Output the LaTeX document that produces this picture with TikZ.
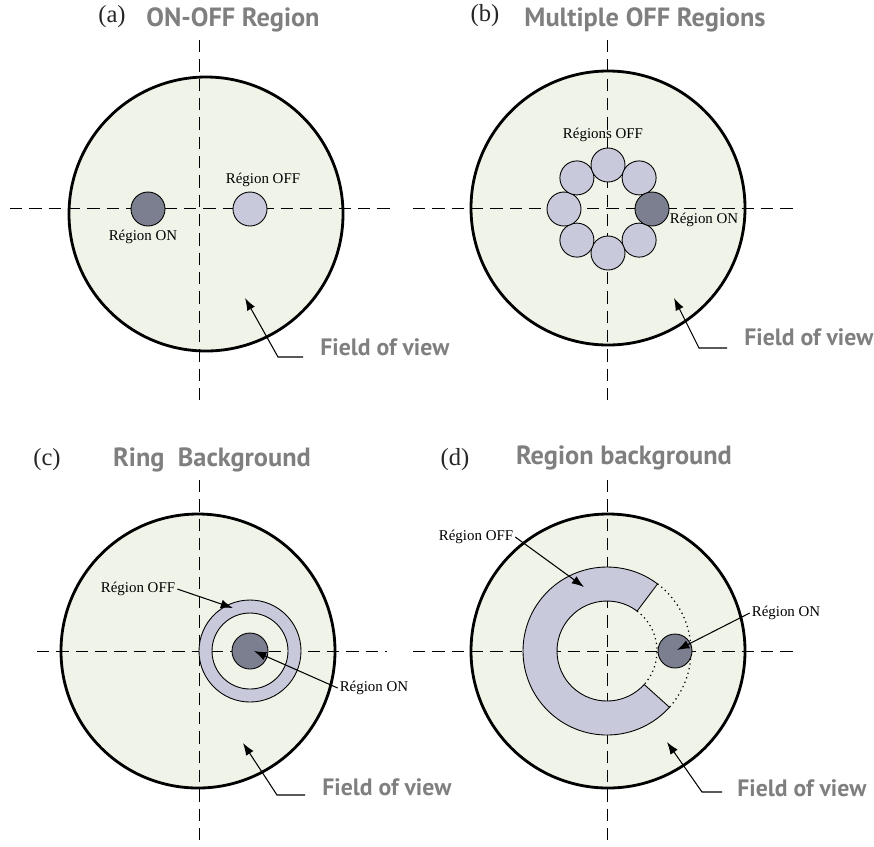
\documentclass[tikz,border=0pt]{standalone}
\usepackage{fontspec}
\setmainfont{Liberation Serif}
\newfontfamily\headfont{PT Sans}
\usetikzlibrary{arrows.meta}

\definecolor{fovfill}{HTML}{F0F4E8}
\definecolor{offfill}{HTML}{C8CADC}
\definecolor{onfill}{HTML}{7C7F8F}
\definecolor{headgray}{HTML}{7F7F7F}

\tikzset{
  fov/.style={draw, line width=1.6pt, fill=fovfill},
  axis/.style={line width=0.5pt, dash pattern=on 7pt off 4pt},
  offreg/.style={draw, line width=0.5pt, fill=offfill},
  onreg/.style={draw, line width=0.5pt, fill=onfill},
  lbl/.style={font=\fontsize{8.5}{9}\selectfont, inner sep=1pt},
  tag/.style={font=\fontsize{14}{15}\selectfont, text=black!85},
  head/.style={font=\headfont\bfseries\fontsize{15}{17}\selectfont, text=headgray},
  fovlbl/.style={font=\headfont\bfseries\fontsize{13.5}{15}\selectfont, text=headgray, anchor=west, inner sep=0pt},
  pointer/.style={-{Latex[length=7pt,width=5pt]}, line width=0.6pt},
}

\begin{document}
\begin{tikzpicture}[x=0.02cm, y=-0.02cm]
\useasboundingbox (0,0) rectangle (874,846);

% (a) ON-OFF region
\draw[fov] (206,214) circle (137);
\draw[axis] (10,208) -- (393,208);
\draw[axis] (199,40) -- (199,400);
\draw[onreg] (148,209) circle (17);
\draw[offreg] (250,209) circle (17);
\node[tag] (taga) at (112,17) {(a)};
\node[head] (heada) at (233,20) {ON-OFF Region};
\node[lbl] (offlbla) at (263,180) {Région OFF};
\node[lbl] (onlbla) at (143,237) {Région ON};
\node[fovlbl] (fova) at (320,347) {Field of view};
\coordinate (fovtipa) at (245,298);
\draw[pointer] ([shift={(-17,10)}]fova.west) -- ++(-25,0) -- (fovtipa);

% (b) multiple OFF regions
\draw[fov] (608,208) circle (137);
\draw[axis] (413,208) -- (795,208);
\draw[axis] (607,40) -- (607,400);
\foreach \a in {45,90,...,315}
  \draw[offreg] (608,209) ++(\a:44) circle (17);
\draw[onreg] (608,209) ++(0:44) circle (17);
\node[tag] (tagb) at (485,16) {(b)};
\node[head] (headb) at (645,20) {Multiple OFF Regions};
\node[lbl] (offlblb) at (603,135) {Régions OFF};
\node[lbl] (onlblb) at (704,220) {Région ON};
\node[fovlbl] (fovb) at (744,337) {Field of view};
\coordinate (fovtipb) at (674,298);
\draw[pointer] ([shift={(-17,11)}]fovb.west) -- ++(-28,0) -- (fovtipb);

% (c) ring background
\draw[fov] (198,651) circle (137);
\draw[axis] (37,651) -- (387,651);
\draw[axis] (199,480) -- (199,840);
\draw[offreg, even odd rule] (250,651) circle (51) circle (38);
\draw[onreg] (250,651) circle (18);
\coordinate (ontipc) at (254,651);
\coordinate (offtipc) at (233,608);
\node[tag] (tagc) at (47,460) {(c)};
\node[head] (headc) at (212,460) {Ring\ \ Background};
\node[lbl] (offlblc) at (138,589) {Région OFF};
\node[lbl] (onlblc) at (374,688) {Région ON};
\draw[pointer] (offlblc.east) -- (offtipc);
\draw[pointer] (onlblc.west) -- (ontipc);
\node[fovlbl] (fovc) at (322,787) {Field of view};
\coordinate (fovtipc) at (243,743);
\draw[pointer] ([shift={(-17,8)}]fovc.west) -- ++(-28,0) -- (fovtipc);

% (d) region background
\draw[fov] (608,651) circle (137);
\draw[axis] (413,651) -- (797,651);
\draw[axis] (607,480) -- (607,840);
\draw[offreg, shift={(607,651)}] (42:84) arc[start angle=42, end angle=307, radius=84]
  -- (307:50) arc[start angle=307, end angle=42, radius=50] -- cycle;
\draw[dotted, line width=0.7pt, shift={(607,651)}] (-53:84) arc[start angle=-53, end angle=42, radius=84];
\draw[dotted, line width=0.7pt, shift={(607,651)}] (-53:50) arc[start angle=-53, end angle=42, radius=50];
\draw[onreg] (675,651) circle (17);
\coordinate (ontipd) at (677,650);
\coordinate (offtipd) at (584,587);
\node[tag] (tagd) at (455,460) {(d)};
\node[head] (headd) at (624,458) {Region background};
\node[lbl] (offlbld) at (476,537) {Région OFF};
\node[lbl] (onlbld) at (786,613) {Région ON};
\draw[pointer] (offlbld.east) -- (offtipd);
\draw[pointer] (onlbld.west) -- (ontipd);
\node[fovlbl] (fovd) at (737,788) {Field of view};
\coordinate (fovtipd) at (667,742);
\draw[pointer] ([shift={(-15,4)}]fovd.west) -- ++(-20,0) -- (fovtipd);
\end{tikzpicture}
\end{document}
